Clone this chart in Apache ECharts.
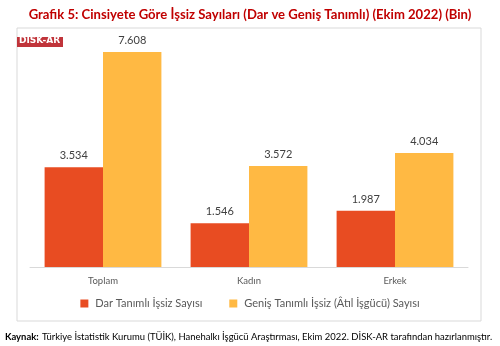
<!DOCTYPE html>
<html><head><meta charset="utf-8">
<script src="https://cdn.jsdelivr.net/npm/echarts@6/dist/echarts.min.js"></script>
<style>html,body{margin:0;padding:0;background:#fff}#c{width:500px;height:346px}</style>
</head><body><div id="c"></div>
<script>
const categories = ['Toplam', 'Kadın', 'Erkek'];
const darValues = [3.534, 1.546, 1.987];
const genisValues = [7.608, 3.572, 4.034];
const seriesNames = ['Dar Tanımlı İşsiz Sayısı', 'Geniş Tanımlı İşsiz (Âtıl İşgücü) Sayısı'];
const titleText = 'Grafik 5: Cinsiyete Göre İşsiz Sayıları (Dar ve Geniş Tanımlı) (Ekim 2022) (Bin)';

const fmt = v => v.toFixed(3);
const chart = echarts.init(document.getElementById('c'), null, {renderer: 'canvas'});
const font = "Lato, sans-serif";
chart.setOption({
  animation: false,
  textStyle: {fontFamily: font},
  title: {
    text: titleText, left: 'center', top: 3,
    textStyle: {color: '#C00000', fontSize: 13.1, fontWeight: 'bold', fontFamily: font}
  },
  graphic: [
    {type: 'rect', shape: {x: 17, y: 28, width: 464, height: 293}, style: {fill: 'none', stroke: '#d9d9d9', lineWidth: 1}, z: -1},
    {type: 'rect', shape: {x: 17, y: 37, width: 46, height: 10}, style: {fill: '#C0343A'}},
    {type: 'text', left: 19, top: 36, style: {text: 'DİSK-AR', fill: '#fff', font: "bold 9px 'DejaVu Sans'"}},
    {type: 'text', left: 5, top: 331, style: {
      rich: {b: {fontWeight: 'bold', fontSize: 9.45, fill: '#000', fontFamily: font}, n: {fontSize: 9.45, fill: '#000', fontFamily: font}},
      text: '{b|Kaynak:} {n|Türkiye İstatistik Kurumu (TÜİK), Hanehalkı İşgücü Araştırması, Ekim 2022. DİSK-AR tarafından hazırlanmıştır.}'
    }}
  ],
  legend: {
    bottom: 32, left: 'center', itemWidth: 8, itemHeight: 8, itemGap: 27, icon: 'rect',
    textStyle: {color: '#595959', fontSize: 11, fontFamily: font, padding: [0, 0, 0, 2]}
  },
  grid: {left: 30, right: 32, top: 41, bottom: 79},
  xAxis: {
    type: 'category', data: categories,
    axisLine: {lineStyle: {color: '#d9d9d9'}}, axisTick: {show: false},
    axisLabel: {color: '#595959', fontSize: 9.5, margin: 9, fontFamily: font}
  },
  yAxis: {type: 'value', min: 0, max: 8, show: false, splitLine: {show: false}},
  series: [
    {name: seriesNames[0], type: 'bar', data: darValues, barGap: '0%', barCategoryGap: '20%',
     itemStyle: {color: '#E84C22'},
     label: {show: true, position: 'top', distance: 6, formatter: p => fmt(p.value), color: '#404040', fontSize: 11, fontFamily: font}},
    {name: seriesNames[1], type: 'bar', data: genisValues,
     itemStyle: {color: '#FFB943'},
     label: {show: true, position: 'top', distance: 6, formatter: p => fmt(p.value), color: '#404040', fontSize: 11, fontFamily: font}}
  ]
});
</script></body></html>
